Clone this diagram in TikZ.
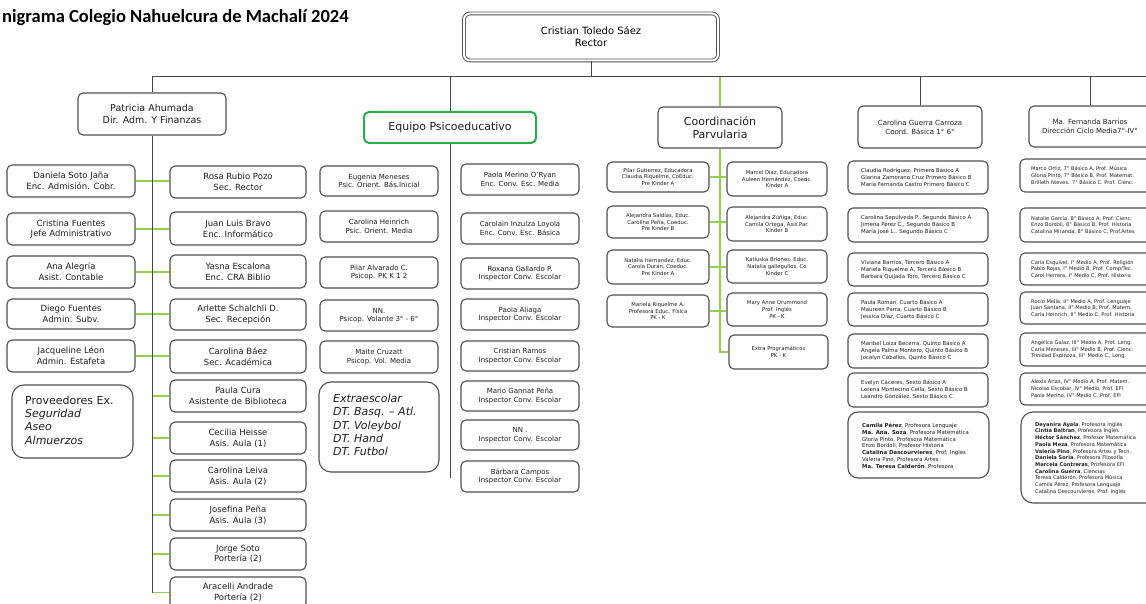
\documentclass[tikz,border=0pt]{standalone}
\usepackage{fontspec}
\setmainfont{DejaVu Sans}
\newfontfamily\titlefont{Carlito}
\definecolor{bordergray}{RGB}{80,80,80}
\definecolor{linegray}{RGB}{70,70,70}
\definecolor{lgreen}{RGB}{146,208,80}
\definecolor{eqgreen}{RGB}{40,176,76}
\definecolor{txt}{RGB}{30,30,30}
\tikzset{
  boxline/.style={draw=bordergray, line width=1.1pt, rounded corners=5pt},
  box/.style={boxline, align=center, inner sep=0pt, text=txt},
  conn/.style={draw=linegray, line width=1pt},
  gconn/.style={draw=lgreen, line width=1.5pt},
  fa/.style={font=\fontsize{8.5}{10.7}\selectfont},
  fb/.style={font=\fontsize{7}{8.6}\selectfont},
  fp/.style={font=\fontsize{5.3}{6.8}\selectfont},
  fbas/.style={font=\fontsize{5.4}{7}\selectfont},
  fmed/.style={font=\fontsize{5.1}{6.7}\selectfont},
  fcoord/.style={font=\fontsize{7}{9}\selectfont},
}
\newcommand{\obox}[7]{\node[box,#6,minimum width={#4-#2},minimum height={#5-#3}] (#1) at ({(#2+#4)/2},{(#3+#5)/2}) {#7};}
\newcommand{\lbox}[8]{\draw[boxline] (#2,#3) rectangle (#4,#5);
  \node[anchor=west,align=left,inner sep=0pt,text=txt,#7] (#1) at (#6,{(#3+#5)/2}) {#8};}
\begin{document}
\begin{tikzpicture}[x=1pt,y=-1pt]
\useasboundingbox (0,0) rectangle (1146,604);
\clip (0,0) rectangle (1146,604);
\fill[white] (0,0) rectangle (1146,604);

% title
\node[anchor=west,inner sep=0pt,font=\titlefont\bfseries\fontsize{18.5}{21}\selectfont] (title) at (2,18) {nigrama Colegio Nahuelcura de Machalí 2024};

% rector
\node[draw=bordergray, line width=0.9pt, double=white, double distance=2pt, rounded corners=6pt,
  minimum width=254, minimum height=47, align=center, inner sep=0pt,
  font=\fontsize{10}{12}\selectfont] (rector) at (591,37) {Cristian Toledo Sáez\\Rector};

\coordinate (hl) at (152,77);
\coordinate (hr) at (1150,77);
\draw[conn] (rector.south) -- (rector.south |- hl);
\draw[conn] (hl) -- (hr);

% ===== Administration =====
\obox{patricia}{78}{93}{226}{135}{font=\fontsize{9.5}{11.7}\selectfont}{Patricia Ahumada\\Dir. Adm. Y Finanzas}
\draw[conn] (hl) -- (patricia.north);

\obox{daniela}{7}{165}{135}{197}{fa}{Daniela Soto Jaña\\Enc. Admisión. Cobr.}
\obox{cristina}{7}{213}{135}{245}{fa}{Cristina Fuentes\\Jefe Administrativo}
\obox{ana}{7}{256}{135}{288}{fa}{Ana Alegría\\Asist. Contable}
\obox{diego}{7}{299}{135}{329}{fa}{Diego Fuentes\\Admin. Subv.}
\obox{jacq}{7}{340}{135}{372}{fa}{Jacqueline Léon\\Admin. Estafeta}
\draw[boxline, rounded corners=12pt] (12,385) rectangle (133,458);
\node[anchor=west, align=left, inner sep=0pt, text=txt, font=\fontsize{11}{13.3}\selectfont] (prov) at (25,420)
  {Proveedores Ex.\\\textit{Seguridad}\\\textit{Aseo}\\\textit{Almuerzos}};

\obox{rosa}{170}{166}{306}{198}{fa}{Rosa Rubio Pozo\\Sec. Rector}
\obox{juan}{170}{212}{306}{245}{fa}{Juan Luis Bravo\\Enc. Informático}
\obox{yasna}{170}{255}{306}{288}{fa}{Yasna Escalona\\Enc. CRA Biblio}
\obox{arlette}{170}{299}{306}{330}{fa}{Arlette Schalchli D.\\Sec. Recepción}
\obox{baez}{170}{340}{306}{373}{fa}{Carolina Báez\\Sec. Académica}
\obox{paula}{170}{380}{306}{412}{fa}{Paula Cura\\Asistente de Biblioteca}
\obox{cecilia}{170}{422}{306}{454}{fa}{Cecilia Heisse\\Asis. Aula (1)}
\obox{leiva}{170}{460}{306}{492}{fa}{Carolina Leiva\\Asis. Aula (2)}
\obox{josefina}{170}{499}{306}{531}{fa}{Josefina Peña\\Asis. Aula (3)}
\obox{jorge}{170}{538}{306}{570}{fa}{Jorge Soto\\Portería (2)}
\obox{aracelli}{170}{577}{306}{608}{fa}{Aracelli Andrade\\Portería (2)}

\draw[gconn] (daniela.east) -- (daniela.east -| rosa.west);
\draw[gconn] (cristina.east) -- (cristina.east -| juan.west);
\draw[gconn] (ana.east) -- (ana.east -| yasna.west);
\draw[gconn] (diego.east) -- (diego.east -| arlette.west);
\draw[gconn] (jacq.east) -- (jacq.east -| baez.west);
\foreach \n in {paula,cecilia,leiva,josefina,jorge,aracelli}
  \draw[gconn] (\n.west -| patricia.south) -- (\n.west);
\coordinate (admend) at (152,593);
\draw[conn] (patricia.south) -- (admend);

% ===== Equipo Psicoeducativo =====
\node[draw=eqgreen, line width=2pt, rounded corners=5pt, minimum width=172, minimum height=31, inner sep=0pt,
  text=txt, font=\fontsize{11}{13}\selectfont] (equipo) at (450,127.5) {Equipo Psicoeducativo};
\draw[conn] (equipo.north |- hl) -- (equipo.north);
\coordinate (eqend) at (450,478);
\draw[conn] (equipo.south) -- (eqend);

\obox{eugenia}{320}{166}{438}{196}{fb}{Eugenia Meneses\\Psic. Orient. Bás.Inicial}
\obox{heinrich}{320}{211}{438}{242}{fb}{Carolina Heinrich\\Psic. Orient. Media}
\obox{alvarado}{320}{257}{438}{288}{fb}{Pilar Alvarado C.\\Psicop. PK K 1 2}
\obox{nnpsi}{320}{300}{438}{331}{fb}{NN.\\Psicop. Volante 3° - 6°}
\obox{maite}{320}{341}{438}{373}{fb}{Maite Cruzatt\\Psicop. Vol. Media}
\draw[boxline, rounded corners=12pt] (319,382) rectangle (439,472);
\node[anchor=west, align=left, inner sep=0pt, text=txt, font=\fontsize{11}{13.4}\itshape] (extraesc) at (333,425)
  {Extraescolar\\DT. Basq. – Atl.\\DT. Voleybol\\DT. Hand\\DT. Futbol};

\obox{merino}{461}{164}{579}{195}{fb}{Paola Merino O'Ryan\\Enc. Conv. Esc. Media}
\obox{inzulza}{461}{213}{579}{244}{fb}{Carolain Inzulza Loyola\\Enc. Conv. Esc. Básica}
\obox{gallardo}{461}{258}{579}{289}{fb}{Roxana Gallardo P.\\Inspector Conv. Escolar}
\obox{aliaga}{461}{299}{579}{330}{fb}{Paola Aliaga\\Inspector Conv. Escolar}
\obox{ramos}{461}{341}{579}{371}{fb}{Cristian Ramos\\Inspector Conv. Escolar}
\obox{gannat}{461}{381}{579}{411}{fb}{Mario Gannat Peña\\Inspector Conv. Escolar}
\obox{nninsp}{461}{420}{579}{450}{fb}{NN .\\Inspector Conv. Escolar}
\obox{campos}{461}{461}{579}{492}{fb}{Bárbara Campos\\Inspector Conv. Escolar}

% ===== Parvularia =====
\obox{parv}{658}{107}{782}{148}{font=\fontsize{11}{13.5}\selectfont}{Coordinación\\Parvularia}
\draw[gconn] (parv.north |- hl) -- (parv.north);

\obox{pgut}{607}{162}{709}{192}{fp}{Pilar Gutierrez, Educadora\\Claudia Riquelme, CoEduc.\\Pre Kinder A}
\obox{asal}{607}{206}{709}{238}{fp}{Alejandra Saldías, Educ.\\Carolina Peña, Coeduc.\\Pre Kinder B}
\obox{nher}{607}{250}{709}{284}{fp}{Natalia Hernandez, Educ.\\Carola Durán, Coeduc.\\Pre Kinder A}
\obox{mriq}{607}{295}{709}{327}{fp}{Mariela Riquelme A.\\Profesora Educ. Física\\PK - K}
\obox{mdiaz}{727}{162}{827}{196}{fp}{Marcel Díaz, Educadora\\Auleen Hernández, Coedc.\\Kinder A}
\obox{azun}{727}{207}{827}{241}{fp}{Alejandra Zúñiga, Educ.\\Camila Ortega, Asis.Par.\\Kinder B}
\obox{kbri}{727}{250}{827}{283}{fp}{Katiuska Briones, Educ.\\Natalia gallegullos, Co\\Kinder C}
\obox{mdrum}{727}{293}{827}{326}{fp}{Mary Anne Drummond\\Prof. Inglés\\PK - K}
\obox{extra}{729}{335}{828}{369}{fp}{Extra Programáticos\\PK - K}

\draw[gconn] (parv.south) |- (extra.west);
\draw[gconn] (pgut.east) -- (pgut.east -| mdiaz.west);
\draw[gconn] (asal.east) -- (asal.east -| azun.west);
\draw[gconn] (nher.east) -- (nher.east -| kbri.west);
\draw[gconn] (mriq.east) -- (mriq.east -| mdrum.west);

% ===== Basica =====
\obox{basica}{858}{106}{982}{148}{fcoord}{Carolina Guerra Carroza\\Coord. Básica 1° 6°}
\draw[conn] (basica.north |- hl) -- (basica.north);

\lbox{b1}{848}{161}{988}{194}{861}{fbas}{Claudia Rodríguez, Primero Básico A\\Glarina Zamorano Cruz Primero Básico B\\María Fernanda Castro Primero Básico C}
\lbox{b2}{848}{208}{988}{242}{861}{fbas}{Carolina Sepúlveda P., Segundo Básico A\\Jimena Pérez C., Segundo Básico B\\María José L.. Segundo Básico C}
\lbox{b3}{848}{253}{988}{286}{861}{fbas}{Viviana Barrios, Tercero Básico A\\Mariela Riquelme A, Tercero Básico B\\Barbara Quijada Toro, Tercero Básico C}
\lbox{b4}{848}{293}{988}{326}{861}{fbas}{Paula Román, Cuarto Básico A\\Maureen Parra, Cuarto Básico B\\Jessica Díaz, Cuarto Básico C}
\lbox{b5}{848}{334}{988}{368}{861}{fbas}{Maribel Loiza Becerra, Quinto Básico A\\Angela Palma Montero, Quinto Básico B\\Jocelyn Ceballos, Quinto Básico C}
\lbox{b6}{848}{373}{988}{407}{861}{fbas}{Evelyn Cáceres, Sexto Básico A\\Lorena Montecino Cella, Sexto Básico B\\Leandro González, Sexto Básico C}
\draw[boxline, rounded corners=10pt] (848,412) rectangle (989,478);
\node[anchor=north west, align=left, inner sep=0pt, text=txt, font=\fontsize{5.4}{6.8}\selectfont] (b7) at (862,423)
  {\textbf{Camila Pérez}, Profesora Lenguaje\\\textbf{Ma. Ana. Soza}, Profesora Matemática\\Gloria Pinto, Profesora Matemática\\Enzo Bordoli, Profesor Historia\\\textbf{Catalina Descourvieres}, Prof. Inglés\\Valeria Pino, Profesora Artes\\\textbf{Ma. Teresa Calderón}, Profesora};

% ===== Media =====
\obox{media}{1029}{106}{1151}{147}{fcoord}{Ma. Fernanda Barrios\\Dirección Ciclo Media7°-IV°}
\draw[conn] (media.north |- hl) -- (media.north);

\lbox{m1}{1020}{159}{1165}{192}{1031}{fmed}{Marco Ortiz, 7° Básico A, Prof. Música\\Gloria Pinto, 7° Básico B, Prof. Matemat.\\Brilleth Nieves. 7° Básico C. Prof. Cienc.}
\lbox{m2}{1020}{208}{1165}{242}{1031}{fmed}{Natalie García, 8° Básico A, Prof. Cienc.\\Enzo Bordoli, 8° Básico B, Prof. Historia\\Catalina Miranda, 8° Básico C, Prof.Artes}
\lbox{m3}{1020}{253}{1165}{285}{1031}{fmed}{Carla Esquivel, I° Medio A, Prof. Religión\\Pablo Rojas, I° Medio B, Prof. Comp/Tec.\\Carol Herrera, I° Medio C, Prof. Historia}
\lbox{m4}{1020}{292}{1165}{324}{1031}{fmed}{Rocío Mella, II° Medio A, Prof. Lenguaje\\Juan Santana, II° Medio B, Prof. Matem.\\Carla Heinrich, II° Medio C, Prof. Historia}
\lbox{m5}{1020}{333}{1165}{366}{1031}{fmed}{Angélica Galaz, III° Medio A, Prof. Leng.\\Carla Meneses, III° Medio B, Prof. Cienc.\\Trinidad Espinoza, III° Medio C,, Leng.}
\lbox{m6}{1020}{373}{1165}{405}{1031}{fmed}{Alexis Arias, IV° Medio A, Prof. Matem.\\Nicolas Escobar, IV° Medio, Prof. EFI\\Paola Merino, IV° Medio C, Prof. EFI}
\draw[boxline, rounded corners=12pt] (1021,412) rectangle (1165,503);
\node[anchor=north west, align=left, inner sep=0pt, text=txt, font=\fontsize{5.1}{6.7}\selectfont] (m7) at (1035,422)
  {\textbf{Deyanira Ayala}, Profesora Inglés\\\textbf{Cintia Beltran}, Profesora Inglés\\\textbf{Héctor Sánchez}, Profesor Matemática\\\textbf{Paola Meza}, Profesora Matemática\\\textbf{Valeria Pino}, Profesora Artes y Tecn.\\\textbf{Daniela Soria}, Profesora Filosofía\\\textbf{Marcela Contreras}, Profesora EFI\\\textbf{Carolina Guerra}, Ciencias\\Teresa Calderón, Profesora Música\\Camila Pérez, Profesora Lenguaje\\Catalina Descourvieres, Prof. Inglés};
\end{tikzpicture}
\end{document}
